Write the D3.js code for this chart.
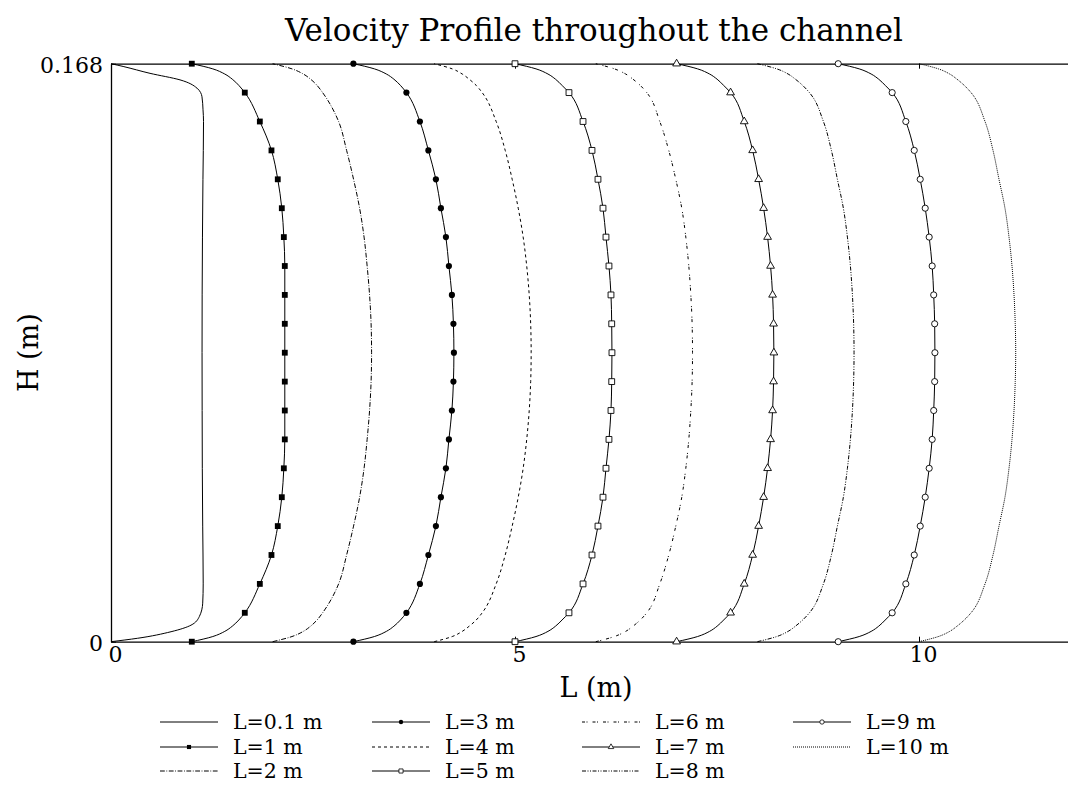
<!DOCTYPE html>
<html>
<head>
<meta charset="utf-8">
<script src="https://cdn.jsdelivr.net/npm/d3@7"></script>
<style>
  body { margin: 0; background: #fff; overflow: hidden; }
  svg { display: block; }
  text { font-family: "DejaVu Serif", serif; fill: #000; }
</style>
</head>
<body>
<svg class="chart"></svg>
<script>
// -------------------- Data --------------------
// Legend labels and the x offset (station L) of each profile.
var labels = ["L=0.1 m", "L=1 m", "L=2 m", "L=3 m", "L=4 m", "L=5 m",
              "L=6 m", "L=7 m", "L=8 m", "L=9 m", "L=10 m"];
var offsets = [0, 1, 2, 3, 4, 5, 6, 7, 8, 9, 10];

// Heights (m) where the velocity is sampled for L >= 1.
var heights = [0, 0.0015, 0.003, 0.0045, 0.0063, 0.0084, 0.0168, 0.0252, 0.0336, 0.042,
               0.0504, 0.0588, 0.0672, 0.0756, 0.084, 0.0924, 0.1008, 0.1092, 0.1176, 0.126,
               0.1344, 0.1428, 0.1512, 0.1596, 0.1617, 0.1635, 0.165, 0.1665, 0.168];

// Inlet profile has a thinner boundary layer, so its own heights.
var inletHeights = [0, 0.001, 0.0029, 0.0048, 0.0073, 0.0112, 0.0168, 0.0336, 0.0504, 0.0672, 0.084,
                    0.1008, 0.1176, 0.1344, 0.1512, 0.1546, 0.1584, 0.1609, 0.1633, 0.1652, 0.1672, 0.168];
var uInlet = [0, 0.330, 0.743, 0.990, 1.093, 1.135, 1.141, 1.135, 1.130, 1.128, 1.127,
              1.128, 1.132, 1.138, 1.145, 1.139, 1.126, 1.064, 0.854, 0.483, 0.150, 0];

var u1  = [0, .260, .408, .501, .582, .656, .842, .986, 1.064, 1.114, 1.139, 1.151, 1.151, 1.151, 1.151,
           1.151, 1.151, 1.151, 1.139, 1.114, 1.064, .986, .842, .656, .582, .501, .408, .260, 0];
var u2  = [0, .240, .380, .470, .550, .619, .817, .916, 1.002, 1.077, 1.132, 1.170, 1.200, 1.219, 1.225,
           1.219, 1.200, 1.170, 1.132, 1.077, 1.002, .916, .817, .619, .550, .470, .380, .240, 0];
var u3  = [0, .260, .408, .501, .582, .656, .823, .928, 1.021, 1.083, 1.145, 1.182, 1.219, 1.238, 1.244,
           1.238, 1.219, 1.182, 1.145, 1.083, 1.021, .928, .823, .656, .582, .501, .408, .260, 0];
var u4  = [0, .223, .347, .433, .520, .594, .767, .879, .965, 1.040, 1.101, 1.145, 1.176, 1.194, 1.200,
           1.194, 1.176, 1.145, 1.101, 1.040, .965, .879, .767, .594, .520, .433, .347, .223, 0];
var u5  = [0, .260, .408, .501, .582, .668, .842, .953, 1.027, 1.089, 1.126, 1.163, 1.188, 1.197, 1.200,
           1.197, 1.188, 1.163, 1.126, 1.089, 1.027, .953, .842, .668, .582, .501, .408, .260, 0];
var u6  = [0, .230, .370, .460, .550, .631, .792, .903, .990, 1.064, 1.114, 1.151, 1.176, 1.192, 1.197,
           1.192, 1.176, 1.151, 1.114, 1.064, .990, .903, .792, .631, .550, .460, .370, .230, 0];
var u7  = [0, .260, .408, .501, .582, .668, .837, .941, 1.015, 1.077, 1.126, 1.163, 1.188, 1.200, 1.204,
           1.200, 1.188, 1.163, 1.126, 1.077, 1.015, .941, .837, .668, .582, .501, .408, .260, 0];
var u8  = [0, .240, .380, .470, .560, .644, .817, .916, .990, 1.064, 1.114, 1.151, 1.176, 1.191, 1.196,
           1.191, 1.176, 1.151, 1.114, 1.064, .990, .916, .817, .644, .560, .470, .380, .240, 0];
var u9  = [0, .260, .408, .501, .582, .668, .837, .941, 1.015, 1.077, 1.126, 1.163, 1.182, 1.194, 1.197,
           1.194, 1.182, 1.163, 1.126, 1.077, 1.015, .941, .837, .668, .582, .501, .408, .260, 0];
var u10 = [0, .240, .380, .470, .560, .644, .817, .916, .990, 1.064, 1.114, 1.151, 1.176, 1.191, 1.197,
           1.191, 1.176, 1.151, 1.114, 1.064, .990, .916, .817, .644, .560, .470, .380, .240, 0];

var xTicks = [0, 5, 10];
var yTicks = [0, 0.168];
var markerStep = 0.0084;

// -------------------- Settings --------------------
var margin = {top: 63.7, left: 111}
  , width = 969.6      // axes run to L=12, past the right edge of the picture
  , height = 578;

// line style + marker per profile
var styles = [
  {dash: null,              marker: null},
  {dash: null,              marker: "square",   fill: "#000"},
  {dash: "4.8,1.6,0.8,1.6", marker: null},
  {dash: null,              marker: "circle",   fill: "#000"},
  {dash: "3,3",             marker: null},
  {dash: null,              marker: "square",   fill: "#fff"},
  {dash: "3,1.5,1,5",       marker: null},
  {dash: null,              marker: "triangle", fill: "#fff"},
  {dash: "4,1.5,1,1.5,1,1.5", marker: null},
  {dash: null,              marker: "circle",   fill: "#fff"},
  {dash: "1,1",             marker: null}
];

var profiles = labels.map(function(label, i) {
  var u = [uInlet, u1, u2, u3, u4, u5, u6, u7, u8, u9, u10][i];
  var h = i === 0 ? inletHeights : heights;
  return {
    label: label,
    style: styles[i],
    points: h.map(function(hh, j) { return {h: hh, x: offsets[i] + u[j]}; })
  };
});

// -------------------- Chart --------------------
var svg = d3.select(".chart")
  .attr("width", 1068)
  .attr("height", 785);

var chart = svg.append("g")
  .attr("transform", "translate(" + margin.left + "," + margin.top + ")");

var x = d3.scaleLinear().domain([0, 12]).range([0, width]);
var y = d3.scaleLinear().domain([0, 0.168]).range([height, 0]);

function styleAxis(g) {
  g.select(".domain").attr("stroke", "#000").attr("stroke-width", 1.3);
  g.selectAll(".tick line").attr("stroke", "#000");
  g.selectAll(".tick text").style("font-family", "DejaVu Serif").style("font-size", "22px");
}

chart.append("g")
  .attr("transform", "translate(0," + height + ")")
  .call(d3.axisBottom(x).tickValues(xTicks).tickFormat(d3.format("d"))
        .tickSizeInner(-5).tickSizeOuter(0).tickPadding(5))
  .call(styleAxis)
  .selectAll(".tick text").attr("dx", 4);

chart.append("g")
  .call(d3.axisTop(x).tickValues(xTicks).tickFormat("")
        .tickSizeInner(-5).tickSizeOuter(0))
  .call(styleAxis);

chart.append("g")
  .call(d3.axisLeft(y).tickValues(yTicks)
        .tickFormat(function(d) { return d === 0 ? "0" : "0.168"; })
        .tickSizeInner(-5).tickSizeOuter(0).tickPadding(8))
  .call(styleAxis)
  .selectAll(".tick text").attr("dy", "0.4em");

// -------------------- Profiles --------------------
var line = d3.line()
  .x(function(d) { return x(d.x); })
  .y(function(d) { return y(d.h); })
  .curve(d3.curveMonotoneY);

var symbolType = {square: d3.symbolSquare, circle: d3.symbolCircle, triangle: d3.symbolTriangle};
var symbolSize = {square: 34, circle: 30, triangle: 26};

function isMarker(h) {
  var k = h / markerStep;
  return Math.abs(k - Math.round(k)) < 1e-6;
}

var prof = chart.selectAll(".profile")
  .data(profiles)
  .enter().append("g")
    .attr("class", "profile");

prof.append("path")
  .attr("d", function(d) { return line(d.points); })
  .attr("fill", "none")
  .attr("stroke", "#000")
  .attr("stroke-width", 1)
  .attr("stroke-dasharray", function(d) { return d.style.dash; });

prof.each(function(p) {
  if (!p.style.marker) return;
  d3.select(this).selectAll(".mk")
    .data(p.points.filter(function(d) { return isMarker(d.h); }))
    .enter().append("path")
      .attr("class", "mk")
      .attr("transform", function(d) { return "translate(" + x(d.x) + "," + y(d.h) + ")"; })
      .attr("d", d3.symbol().type(symbolType[p.style.marker]).size(symbolSize[p.style.marker]))
      .attr("fill", p.style.fill)
      .attr("stroke", "#000")
      .attr("stroke-width", p.style.fill === "#fff" ? 0.9 : 0);
});

// -------------------- Labels --------------------
svg.append("text")
  .attr("x", 594).attr("y", 41)
  .style("text-anchor", "middle")
  .style("font-size", "31px")
  .text("Velocity Profile throughout the channel");

svg.append("text")
  .attr("x", 596).attr("y", 697)
  .style("text-anchor", "middle")
  .style("font-size", "27px")
  .text("L (m)");

svg.append("text")
  .attr("transform", "translate(38," + (margin.top + height / 2) + ") rotate(-90)")
  .style("text-anchor", "middle")
  .style("font-size", "27px")
  .text("H (m)");

// -------------------- Legend --------------------
var legendX = [160, 372, 582, 793]
  , legendY = [722, 747, 771];

var leg = svg.selectAll(".legend")
  .data(profiles)
  .enter().append("g")
    .attr("class", "legend")
    .attr("transform", function(d, i) {
      return "translate(" + legendX[Math.floor(i / 3)] + "," + legendY[i % 3] + ")";
    });

leg.append("line")
  .attr("x1", 0).attr("x2", 58)
  .attr("stroke", "#000")
  .attr("stroke-width", 1)
  .attr("stroke-dasharray", function(d) { return d.style.dash; });

leg.filter(function(d) { return d.style.marker; })
  .append("path")
    .attr("transform", "translate(29,0)")
    .attr("d", function(d) {
      return d3.symbol().type(symbolType[d.style.marker]).size(symbolSize[d.style.marker] * 0.5)();
    })
    .attr("fill", function(d) { return d.style.fill; })
    .attr("stroke", "#000")
    .attr("stroke-width", function(d) { return d.style.fill === "#fff" ? 0.8 : 0; });

leg.append("text")
  .attr("x", 73).attr("dy", "0.35em")
  .style("font-size", "20.5px")
  .text(function(d) { return d.label; });
</script>
</body>
</html>
